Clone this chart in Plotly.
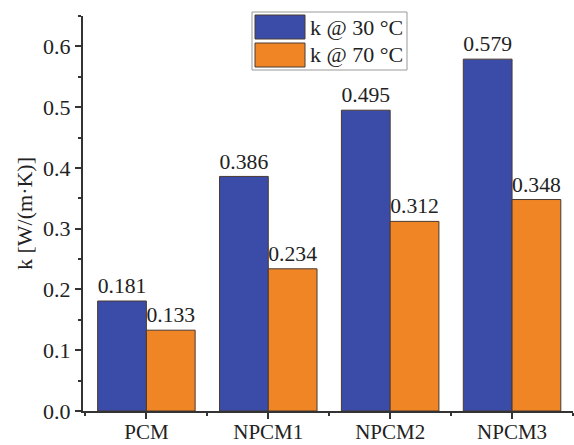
import plotly.graph_objects as go

categories = ["PCM", "NPCM1", "NPCM2", "NPCM3"]
k30 = [0.181, 0.386, 0.495, 0.579]
k70 = [0.133, 0.234, 0.312, 0.348]
series_names = ["k @ 30 °C", "k @ 70 °C"]
y_ticks = [0.0, 0.1, 0.2, 0.3, 0.4, 0.5, 0.6]

BLUE = "#3A4CA8"
ORANGE = "#F08526"
EDGE = "#4a3a30"
FONT = "Liberation Serif"
FS = 22
xpos = list(range(len(categories)))

fig = go.Figure()
for vals, col, name in [(k30, BLUE, series_names[0]), (k70, ORANGE, series_names[1])]:
    fig.add_trace(go.Bar(
        x=xpos, y=vals, name=name, marker=dict(color=col, line=dict(color=EDGE, width=1)),
        text=[f"{v:.3f}" for v in vals], textposition="outside", cliponaxis=False,
        textfont=dict(family=FONT, size=FS, color="#222"),
    ))

fig.update_layout(
    width=574, height=445, barmode="group", bargap=0.2, bargroupgap=0,
    plot_bgcolor="white", paper_bgcolor="white", showlegend=False,
    margin=dict(l=83, r=1, t=16, b=34, autoexpand=False),
    font=dict(family=FONT, size=FS, color="#222"),
    uniformtext=dict(mode=False),
)
fig.update_xaxes(
    range=[-0.52, 3.5], tickvals=xpos, ticktext=categories, automargin=False,
    showline=True, linecolor="#333", linewidth=2, ticks="outside", ticklen=6, tickwidth=1.5,
    tickcolor="#333", showgrid=False, zeroline=False, ticklabelstandoff=-5,
    minor=dict(tick0=0.5, dtick=1, ticks="outside", ticklen=3, tickcolor="#333", tickwidth=1.5),
    tickfont=dict(family=FONT, size=21),
)
fig.update_yaxes(
    range=[0, 0.65], tickvals=y_ticks, tickformat=".1f", automargin=False,
    showline=True, linecolor="#333", linewidth=2, ticks="outside", ticklen=6, tickwidth=1.5,
    tickcolor="#333", showgrid=False, zeroline=False,
    minor=dict(dtick=0.05, ticks="outside", ticklen=3, tickcolor="#333", tickwidth=1.5),
    title=dict(text="k [W/(m·K)]", font=dict(family=FONT, size=FS), standoff=4),
    tickfont=dict(family=FONT, size=FS),
)

# custom legend with large swatches (paper coordinates)
def px2x(p):
    return (p - 83) / 490
def py2y(p):
    return (411 - p) / 395

fig.add_shape(type="rect", xref="paper", yref="paper", x0=px2x(252), x1=px2x(407),
              y0=py2y(70), y1=py2y(12), line=dict(color="#999", width=1), fillcolor="white")
for i, (col, name) in enumerate([(BLUE, series_names[0]), (ORANGE, series_names[1])]):
    top = 15 + i * 28
    fig.add_shape(type="rect", xref="paper", yref="paper", x0=px2x(255), x1=px2x(305),
                  y0=py2y(top + 24), y1=py2y(top), line=dict(color=EDGE, width=1), fillcolor=col)
    fig.add_annotation(xref="paper", yref="paper", x=px2x(308), y=py2y(top + 12),
                       text=name, showarrow=False, xanchor="left", yanchor="middle",
                       font=dict(family=FONT, size=FS, color="#222"))

fig.write_html("out.html")
